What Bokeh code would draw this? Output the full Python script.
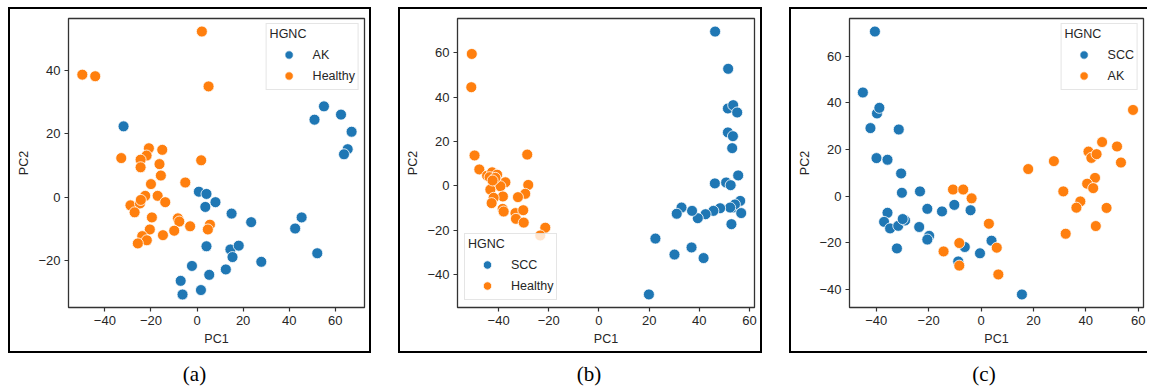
from bokeh.plotting import figure
from bokeh.layouts import row, column
from bokeh.models import (Div, FixedTicker, CustomJSTickFormatter, Range1d,
                          Legend, LegendItem, ColumnDataSource)
from bokeh.embed import file_html
from bokeh.resources import INLINE

# ---------------- data ----------------
# Panel (a): AK vs Healthy
A_AK_PC1 = [-31.9, 55.1, 51.0, 62.5, 67.1, 65.4, 63.8, 0.8, 4.1, 3.6, 8.0, 15.0, 23.5, 45.4,
            42.6, 52.2, 4.1, 14.5, 18.1, 15.4, 27.9, -2.2, 12.5, 5.3, -7.1, -6.3, 1.7]
A_AK_PC2 = [22.3, 28.6, 24.4, 26.0, 20.6, 15.1, 13.5, 1.7, 1.0, -3.1, -1.6, -5.2, -7.9, -6.4,
            -9.9, -17.7, -15.5, -16.5, -15.3, -18.9, -20.4, -21.7, -22.8, -24.5, -26.4, -30.7, -29.3]
A_H_PC1 = [-49.8, -44.2, 2.1, 5.0, -32.9, -20.9, -15.1, -21.9, -24.5, -24.5, -16.3, -15.7, 1.8,
           -20.0, -5.1, -22.5, -17.1, -13.8, -28.9, -24.8, -24.4, -27.1, -19.6, -8.3, -7.7, -3.0,
           -20.5, -9.9, -14.8, -23.8, -21.8, -25.7, 5.6, 4.7]
A_H_PC2 = [38.6, 38.1, 52.2, 34.9, 12.3, 15.4, 14.9, 13.1, 11.8, 9.4, 10.4, 6.8, 11.6,
           4.1, 4.6, 0.4, 0.4, -1.6, -2.6, -2.0, -0.9, -4.8, -6.4, -6.7, -7.7, -9.2,
           -10.2, -10.6, -12.0, -12.3, -13.6, -14.6, -8.7, -10.2]

# Panel (b): SCC vs Healthy
B_S_PC1 = [46.3, 51.5, 51.4, 53.5, 55.1, 51.4, 53.4, 53.1, 55.5, 46.2, 50.7, 52.5, 56.3, 53.4, 54.2,
           52.3, 56.7, 52.8, 48.3, 45.6, 42.5, 39.4, 37.1, 32.9, 31.0, 22.5, 36.9, 30.1, 41.7, 19.9]
B_S_PC2 = [69.6, 52.8, 34.9, 36.4, 33.1, 24.1, 22.4, 17.0, 4.7, 1.1, 1.5, 0.3, -6.8, -9.8, -8.4,
           -9.8, -12.3, -17.3, -10.1, -11.3, -12.8, -14.6, -11.3, -9.8, -12.6, -23.8, -27.8, -31.0, -32.6, -49.0]
B_H_PC1 = [-50.7, -50.9, -49.6, -28.6, -47.7, -44.6, -42.6, -40.6, -42.0, -43.6, -40.0, -37.3, -39.3,
           -43.3, -28.2, -29.4, -32.3, -38.3, -42.0, -42.8, -38.4, -38.0, -33.3, -33.1, -30.2, -30.0,
           -21.4, -23.4, -41.3, -42.4]
B_H_PC2 = [59.5, 44.5, 13.7, 14.1, 7.4, 4.6, 6.1, 5.0, 2.7, 3.9, 1.6, 1.6, -0.2,
           -1.7, 0.4, -3.6, -5.1, -4.8, -5.4, -7.8, -10.4, -11.6, -12.3, -14.9, -11.0, -16.6,
           -18.9, -22.4, 3.6, 2.4]

# Panel (c): SCC vs AK
C_S_PC1 = [-40.5, -45.1, -39.7, -38.8, -42.2, -31.4, -39.9, -35.7, -30.5, -30.2, -23.3, -35.7, -37.0,
           -34.7, -31.6, -29.0, -29.9, -32.1, -23.6, -20.5, -19.8, -20.5, -14.9, -10.2, -4.0, -6.2,
           -8.7, -0.4, 4.0, 15.6]
C_S_PC2 = [70.7, 44.5, 35.5, 37.9, 29.2, 28.6, 16.3, 15.6, 9.7, 1.4, 2.0, -7.2, -11.1,
           -13.9, -12.8, -10.5, -9.9, -22.5, -13.3, -5.5, -17.1, -18.7, -6.6, -3.8, -6.1, -21.9,
           -28.1, -24.6, -19.2, -42.3]
C_A_PC1 = [-10.7, -6.8, -3.6, 3.0, -14.3, -8.3, -8.3, 6.0, 6.6, 18.0, 27.8, 31.4, 32.3, 37.9,
           36.4, 41.0, 42.1, 44.1, 46.2, 43.5, 40.5, 42.8, 43.8, 47.9, 51.9, 53.4, 58.0]
C_A_PC2 = [2.8, 2.8, -1.0, -11.9, -23.8, -20.2, -29.9, -22.2, -33.7, 11.6, 15.0, 2.0, -16.2, -2.3,
           -5.0, 19.1, 16.4, 18.0, 23.2, 7.8, 5.3, 3.4, -12.9, -5.1, 21.3, 14.4, 37.0]

X_TICKS = [-40, -20, 0, 20, 40, 60]
A_Y_TICKS = [-20, 0, 20, 40]
BC_Y_TICKS = [-40, -20, 0, 20, 40, 60]
LEGEND_TITLE = "HGNC"
CAPTIONS = ["(a)", "(b)", "(c)"]

BLUE = "#1f77b4"
ORANGE = "#ff7f0e"
TXT = "#262626"
FONT = "Liberation Sans"

fmt_code = "return (tick < 0 ? '\\u2212' : '') + Math.abs(tick).toString();"


def panel(s1, s2, xr, yr, yticks, width, mbl, mbr, legend_loc, legend_margin, styles, margin):
    p = figure(width=width, height=346, x_range=Range1d(*xr), y_range=Range1d(*yr),
               output_backend="svg", toolbar_location=None,
               min_border_left=mbl, min_border_right=mbr, min_border_top=9, min_border_bottom=48)
    p.title.visible = False
    p.xgrid.visible = False
    p.ygrid.visible = False
    p.outline_line_color = "#333333"
    p.outline_line_width = 1.3
    p.background_fill_color = "white"
    p.border_fill_color = "white"
    p.styles = styles
    p.margin = margin
    p.xaxis.axis_label = "PC1"
    p.yaxis.axis_label = "PC2"
    p.xaxis.ticker = FixedTicker(ticks=X_TICKS)
    p.yaxis.ticker = FixedTicker(ticks=yticks)
    for ax in (p.xaxis[0], p.yaxis[0]):
        ax.formatter = CustomJSTickFormatter(code=fmt_code)
        ax.axis_line_color = None
        ax.major_tick_in = 0
        ax.major_tick_out = 4
        ax.major_tick_line_color = "#333333"
        ax.major_tick_line_width = 1.2
        ax.minor_tick_line_color = None
        ax.major_label_text_font = FONT
        ax.major_label_text_font_size = "13px"
        ax.major_label_text_color = TXT
        ax.major_label_standoff = 4
        ax.axis_label_text_font = FONT
        ax.axis_label_text_font_size = "12.5px"
        ax.axis_label_text_font_style = "normal"
        ax.axis_label_text_color = TXT
        ax.axis_label_standoff = 4
    items = []
    for (name, xs, ys, col) in (s1, s2):
        src = ColumnDataSource(dict(x=xs, y=ys))
        r = p.scatter("x", "y", source=src, size=11, fill_color=col, line_color="white",
                      line_width=0.8)
        items.append(LegendItem(label=name, renderers=[r]))
    leg = Legend(items=items, title=LEGEND_TITLE, location=legend_loc, margin=legend_margin,
                 padding=3, spacing=-3, glyph_width=38, glyph_height=21, label_height=21,
                 label_standoff=5, title_standoff=3,
                 label_text_font=FONT, label_text_font_size="12.5px", label_text_color=TXT,
                 title_text_font=FONT, title_text_font_size="12.5px", title_text_color=TXT,
                 title_text_font_style="normal",
                 border_line_color="#cccccc", border_line_width=1,
                 background_fill_color="white", background_fill_alpha=0.8)
    p.add_layout(leg)
    return p


def caption(txt, width, shift, margin):
    html = ('<div style="box-sizing:border-box;width:%dpx;text-align:center;padding-left:%dpx;'
            'padding-top:10px;font-family:\'Liberation Serif\';font-size:21px;line-height:22px;'
            'color:#000">%s</div>' % (width, shift, txt))
    return Div(text=html, width=width, height=34, margin=margin)


pa = panel(("AK", A_AK_PC1, A_AK_PC2, BLUE), ("Healthy", A_H_PC1, A_H_PC2, ORANGE),
           (-55.8, 72.7), (-34.8, 56.3), A_Y_TICKS, 363, 58, 9, "top_right", 5,
           {"border": "2px solid black"}, (7, 0, 0, 8))
pb = panel(("SCC", B_S_PC1, B_S_PC2, BLUE), ("Healthy", B_H_PC1, B_H_PC2, ORANGE),
           (-56.4, 62.0), (-54.9, 75.5), BC_Y_TICKS, 364, 57, 10, "bottom_left", 7,
           {"border": "2px solid black"}, (7, 0, 0, 23))
pc = panel(("SCC", C_S_PC1, C_S_PC2, BLUE), ("AK", C_A_PC1, C_A_PC2, ORANGE),
           (-50.2, 62.0), (-47.9, 76.3), BC_Y_TICKS, 358, 58, 6, "top_right", 5,
           {"border-top": "2px solid black", "border-left": "2px solid black",
            "border-bottom": "2px solid black"}, (7, 0, 0, 23))

ca = caption(CAPTIONS[0], 367, 6, (0, 0, 0, 8))
cb = caption(CAPTIONS[1], 368, 14, (0, 0, 0, 23))
cc = caption(CAPTIONS[2], 360, 30, (0, 0, 0, 23))

layout = row(column(pa, ca), column(pb, cb), column(pc, cc))

open("out.html", "w").write(file_html(layout, INLINE))
